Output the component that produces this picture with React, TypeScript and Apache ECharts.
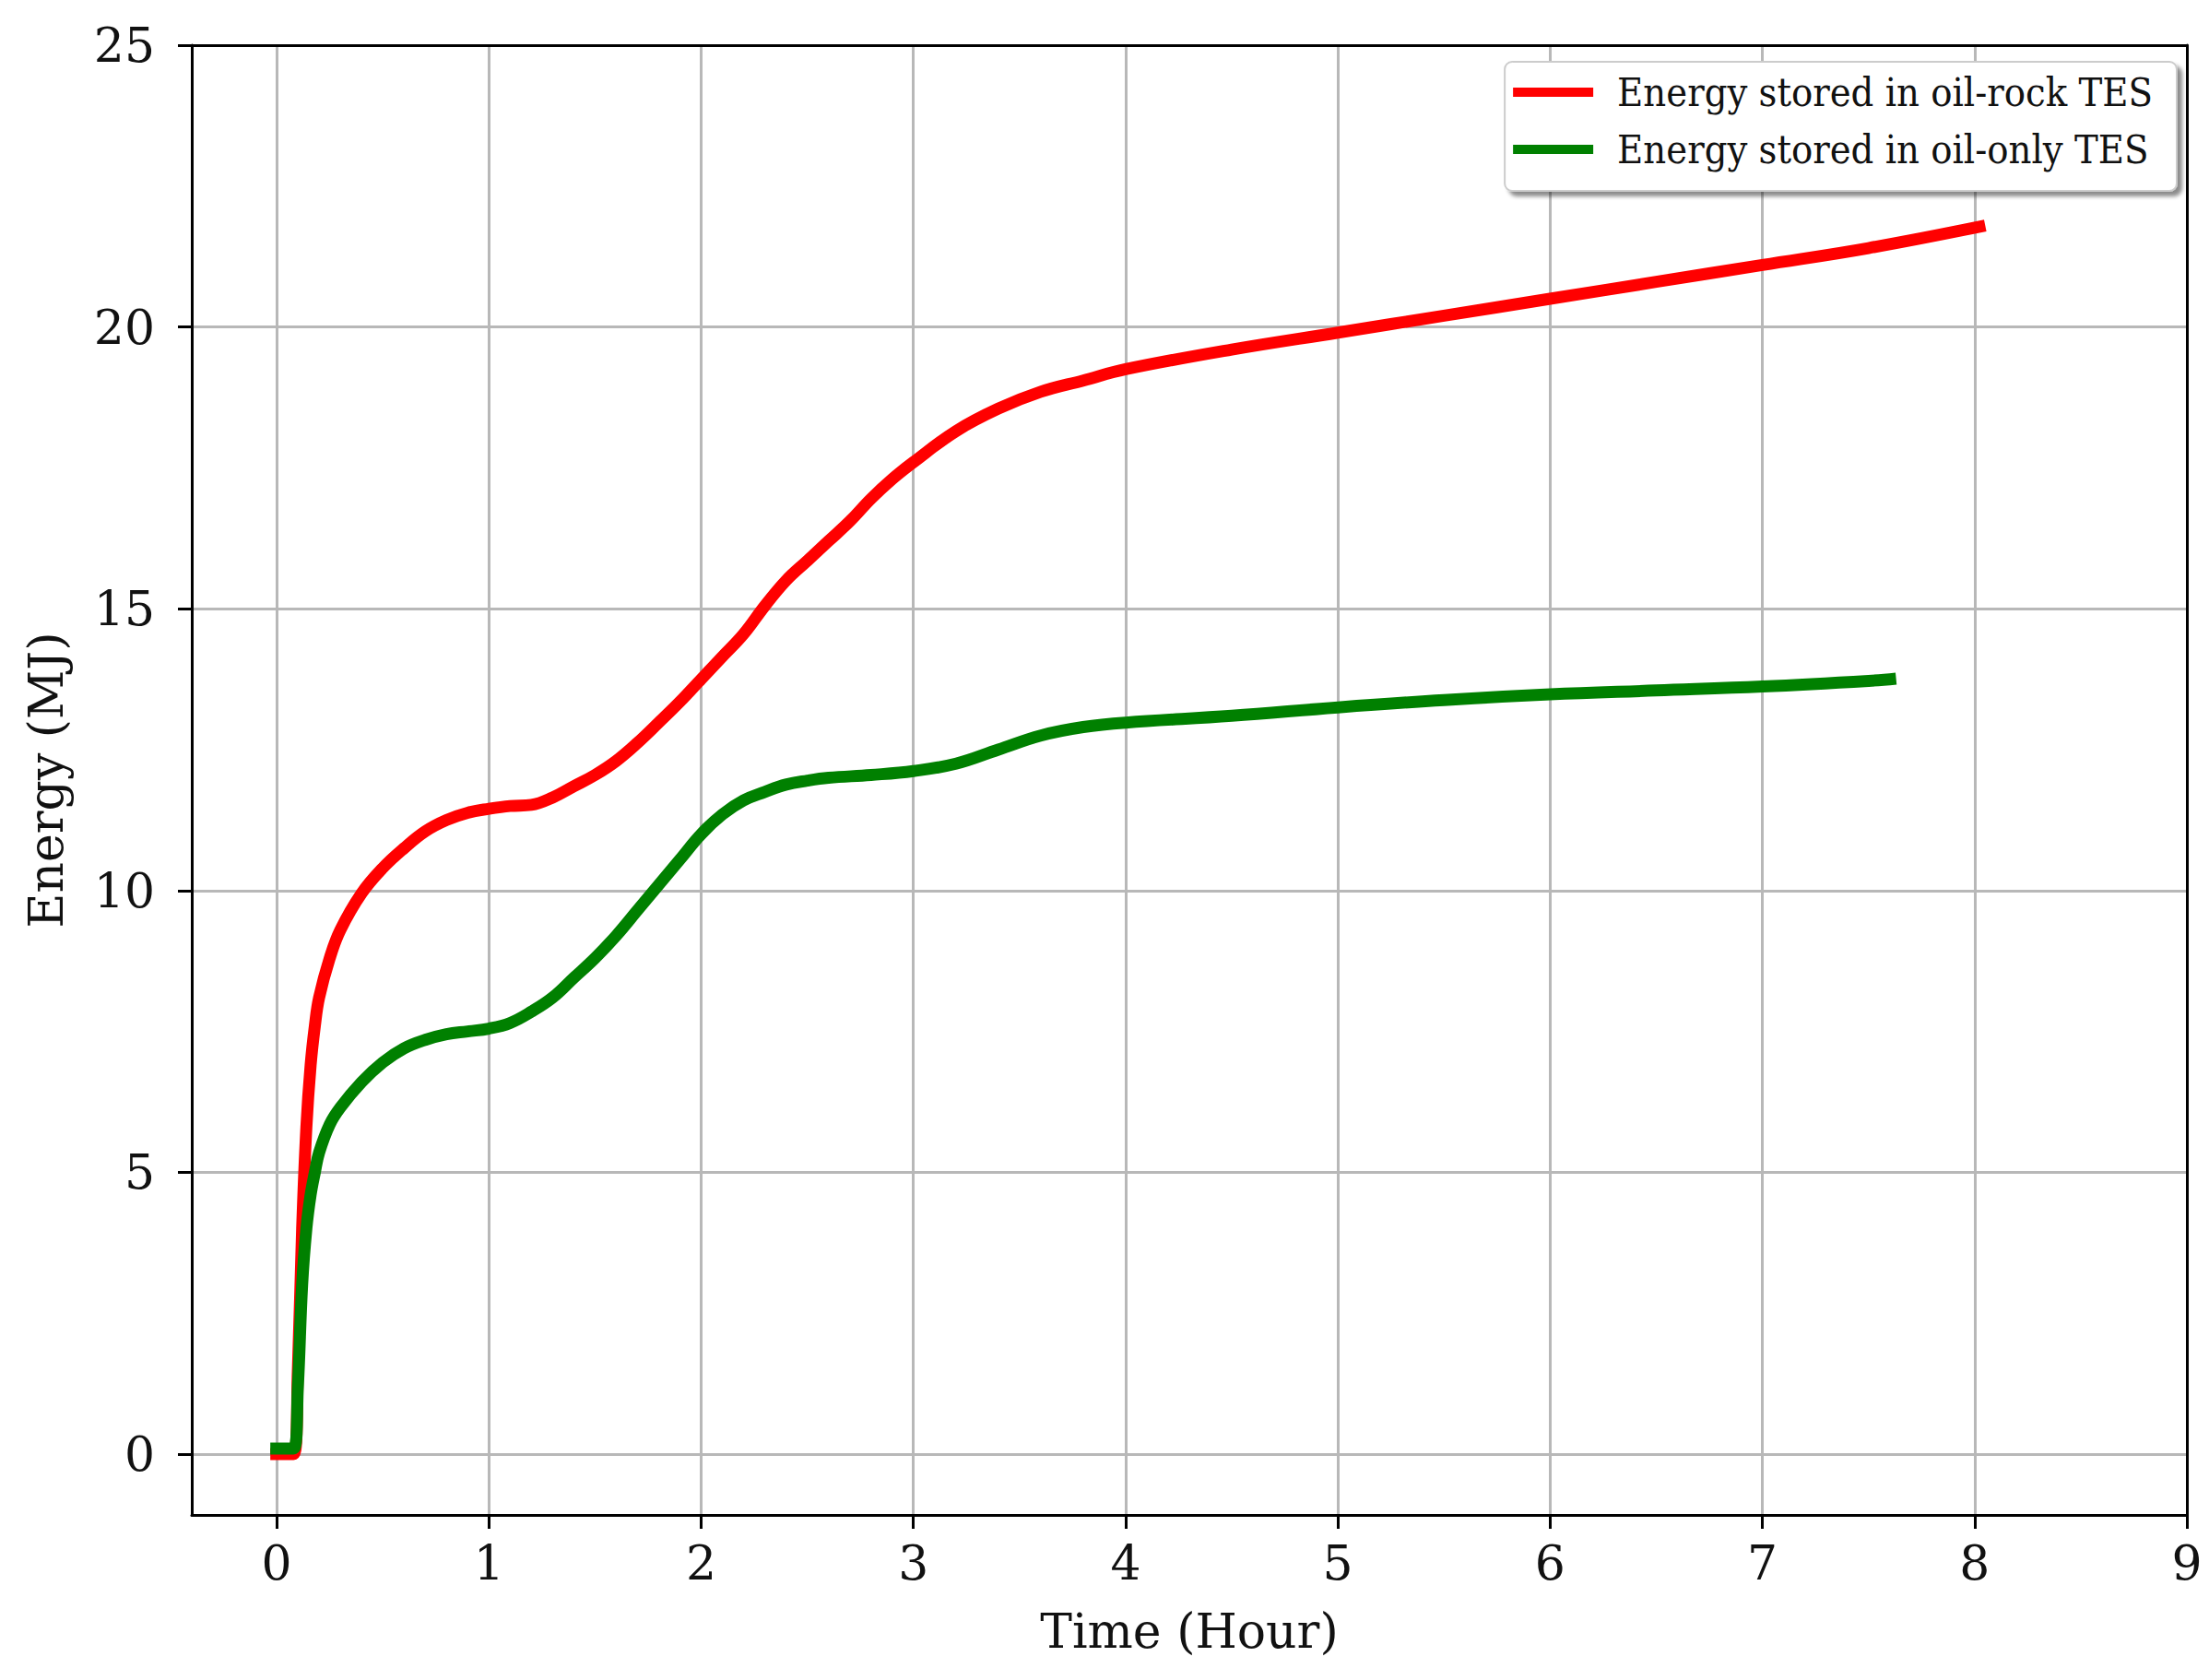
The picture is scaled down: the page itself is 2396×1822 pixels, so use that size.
import React, { useEffect, useRef } from "react";
import * as echarts from "echarts";

const timeRock = [-0.03, 0.08, 0.1, 0.12, 0.14, 0.16, 0.18, 0.2, 0.25, 0.3, 0.4, 0.5, 0.6, 0.7, 0.8, 0.9, 1.0, 1.1, 1.2, 1.3, 1.4, 1.5, 1.6, 1.7, 1.8, 1.9, 2.0, 2.1, 2.2, 2.3, 2.4, 2.5, 2.6, 2.7, 2.8, 2.9, 3.0, 3.2, 3.4, 3.6, 3.8, 4.0, 4.5, 5.0, 5.5, 6.0, 6.5, 7.0, 7.5, 8.05];
const energyRock = [0, 0, 1.5, 4.0, 5.8, 6.9, 7.6, 8.1, 8.8, 9.3, 9.95, 10.4, 10.75, 11.05, 11.25, 11.38, 11.45, 11.5, 11.52, 11.65, 11.85, 12.05, 12.3, 12.62, 12.98, 13.35, 13.75, 14.15, 14.55, 15.05, 15.5, 15.85, 16.2, 16.55, 16.95, 17.3, 17.6, 18.15, 18.55, 18.85, 19.05, 19.25, 19.6, 19.9, 20.2, 20.5, 20.8, 21.1, 21.4, 21.8];

const timeOnly = [-0.03, 0.08, 0.1, 0.12, 0.14, 0.16, 0.18, 0.2, 0.25, 0.3, 0.4, 0.5, 0.6, 0.7, 0.8, 0.9, 1.0, 1.1, 1.2, 1.3, 1.4, 1.5, 1.6, 1.7, 1.8, 1.9, 2.0, 2.1, 2.2, 2.3, 2.4, 2.5, 2.6, 2.8, 3.0, 3.2, 3.4, 3.6, 3.8, 4.0, 4.5, 5.0, 5.5, 6.0, 6.5, 7.0, 7.5, 7.63];
const energyOnly = [0.1, 0.1, 1.2, 3.0, 4.0, 4.6, 5.0, 5.35, 5.85, 6.15, 6.6, 6.95, 7.2, 7.35, 7.45, 7.5, 7.55, 7.65, 7.85, 8.1, 8.45, 8.8, 9.2, 9.65, 10.1, 10.55, 11.0, 11.35, 11.6, 11.75, 11.88, 11.95, 12.0, 12.05, 12.12, 12.25, 12.5, 12.75, 12.9, 12.98, 13.1, 13.25, 13.38, 13.48, 13.55, 13.62, 13.72, 13.76];

const xTicks = [0, 1, 2, 3, 4, 5, 6, 7, 8, 9];
const yTicks = [0, 5, 10, 15, 20, 25];

const seriesNames = ["Energy stored in oil-rock TES", "Energy stored in oil-only TES"];

const FONT = "DejaVu Serif";
const LEGEND_FONT = "'DejaVu Serif Condensed', 'DejaVu Serif'";

export default function App() {
  const ref = useRef<HTMLDivElement>(null);
  useEffect(() => {
    if (!ref.current) return;
    const chart = echarts.init(ref.current, null, { renderer: "svg" });
    const rockData = timeRock.map((t, i) => [t, energyRock[i]]);
    const onlyData = timeOnly.map((t, i) => [t, energyOnly[i]]);
    const frameAxis = {
      type: "value",
      axisLine: { show: true, onZero: false, lineStyle: { color: "#000", width: 3 } },
      axisTick: { show: false },
      axisLabel: { show: false },
      splitLine: { show: false },
    };
    chart.setOption({
      animation: false,
      backgroundColor: "#ffffff",
      grid: {
        left: 208,
        right: 24,
        top: 49,
        bottom: 179,
      },
      legend: {
        right: 35,
        top: 67,
        orient: "vertical",
        icon: "rect",
        itemWidth: 87,
        itemHeight: 10,
        itemGap: 14,
        padding: [9, 26, 21, 9],
        backgroundColor: "#fff",
        borderColor: "#cccccc",
        borderWidth: 2,
        borderRadius: 8,
        shadowColor: "rgba(0,0,0,0.45)",
        shadowBlur: 4,
        shadowOffsetX: 5,
        shadowOffsetY: 5,
        textStyle: {
          fontFamily: LEGEND_FONT,
          fontSize: 43,
          color: "#111",
          padding: [0, 0, 0, 21],
          lineHeight: 48,
        },
        data: seriesNames,
      },
      xAxis: [
        {
          type: "value",
          min: -0.4,
          max: 9,
          minInterval: 1,
          maxInterval: 1,
          name: "Time (Hour)",
          nameLocation: "middle",
          nameGap: 100,
          nameTextStyle: { fontFamily: FONT, fontSize: 52, color: "#111" },
          axisLine: { show: true, onZero: false, lineStyle: { color: "#000", width: 3 } },
          axisTick: { show: true, length: 15, lineStyle: { color: "#000", width: 3 }, customValues: xTicks },
          axisLabel: {
            customValues: xTicks,
            fontFamily: FONT,
            fontSize: 52,
            color: "#111",
            margin: 26,
          },
          splitLine: { show: true, lineStyle: { color: "#b8b8b8", width: 3 } },
        },
        { ...frameAxis, position: "top", min: -0.4, max: 9 },
      ],
      yAxis: [
        {
          type: "value",
          min: -1.08,
          max: 25,
          minInterval: 5,
          maxInterval: 5,
          name: "Energy (MJ)",
          nameLocation: "middle",
          nameGap: 132,
          nameRotate: 90,
          nameTextStyle: { fontFamily: FONT, fontSize: 52, color: "#111" },
          axisLine: { show: true, onZero: false, lineStyle: { color: "#000", width: 3 } },
          axisTick: { show: true, length: 15, lineStyle: { color: "#000", width: 3 }, customValues: yTicks },
          axisLabel: {
            customValues: yTicks,
            fontFamily: FONT,
            fontSize: 52,
            color: "#111",
            margin: 40,
          },
          splitLine: { show: true, lineStyle: { color: "#b8b8b8", width: 3 } },
        },
        { ...frameAxis, position: "right", min: -1.08, max: 25 },
      ],
      series: [
        {
          name: seriesNames[0],
          type: "line",
          data: rockData,
          showSymbol: false,
          smooth: 0.4,
          lineStyle: { color: "#ff0000", width: 13 },
          itemStyle: { color: "#ff0000" },
        },
        {
          name: seriesNames[1],
          type: "line",
          data: onlyData,
          showSymbol: false,
          smooth: 0.4,
          lineStyle: { color: "#008000", width: 13 },
          itemStyle: { color: "#008000" },
        },
      ],
    });
    return () => chart.dispose();
  }, []);
  return (
    <div
      ref={ref}
      style={{ position: "absolute", left: 0, top: 0, width: 2396, height: 1822 }}
    />
  );
}
